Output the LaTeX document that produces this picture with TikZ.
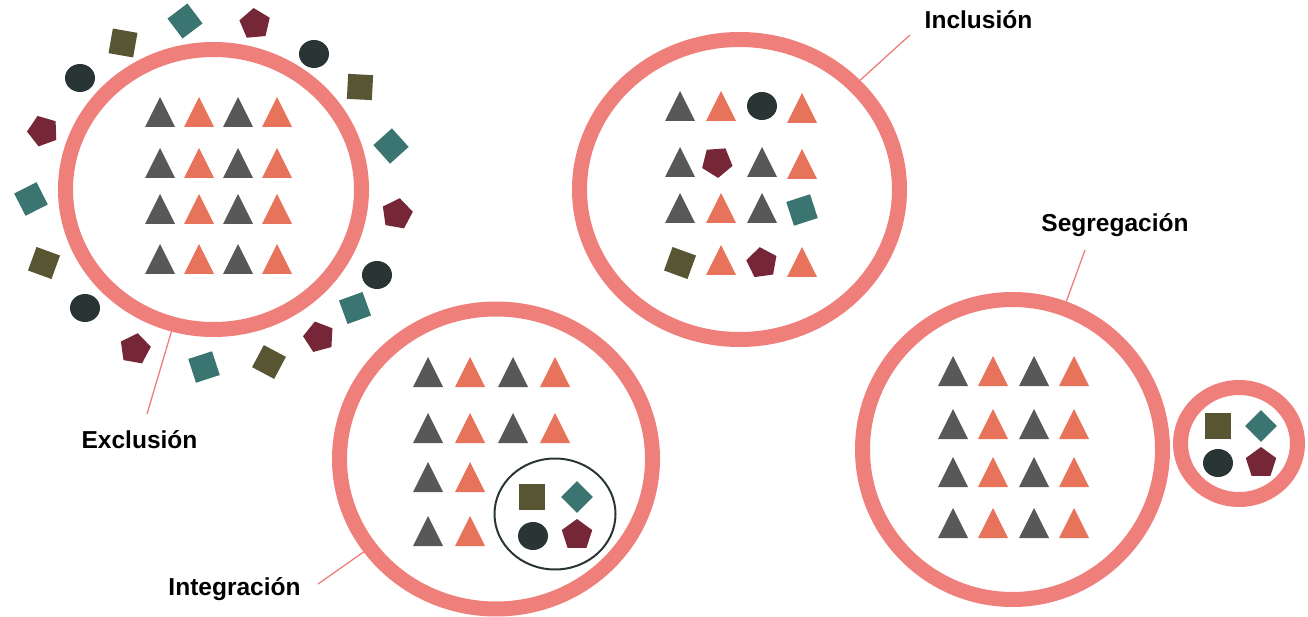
\documentclass[tikz,border=0pt]{standalone}
\usepackage{fontspec}
\setmainfont{Liberation Sans}
\usetikzlibrary{shapes.geometric}

\definecolor{anillo}{HTML}{EF7F7B}
\definecolor{gris}{HTML}{585858}
\definecolor{naranja}{HTML}{E8735B}
\definecolor{verdeazul}{HTML}{3B7571}
\definecolor{oliva}{HTML}{585532}
\definecolor{granate}{HTML}{762737}
\definecolor{oscuro}{HTML}{293535}

\tikzset{
  ring/.style={ellipse, draw=anillo, line width=15pt, inner sep=0pt},
  leader/.style={draw=anillo, line width=1.3pt},
  etiqueta/.style={font=\bfseries\fontsize{24.5}{28}\selectfont, anchor=base, inner sep=0pt},
  pics/tri/.style={code={\fill[#1] (-15,15) -- (15,15) -- (0,-15) -- cycle;}},
  pics/cuad/.style={code={\fill[#1] (-12.5,-12.5) rectangle (12.5,12.5);}},
  pics/pent/.style={code={\fill[granate] (-90:16) -- (-18:16) -- (54:16) -- (126:16) -- (198:16) -- cycle;}},
  pics/bola/.style={code={\fill[oscuro] (0,0) ellipse [x radius=15pt, y radius=14pt];}},
}

\begin{document}
\begin{tikzpicture}[x=1pt, y=-1pt]
\useasboundingbox (0,0) rectangle (1308,617);

% Anillos
\node[ring, minimum width=296pt, minimum height=280pt] (excring) at (213.5,189.5) {};
\node[ring, minimum width=320pt, minimum height=300pt] (incring) at (739.5,189.5) {};
\node[ring, minimum width=313pt, minimum height=300pt] (intring) at (496,459) {};
\node[ring, minimum width=300pt, minimum height=300pt] (segring) at (1012.5,449.5) {};
\node[ring, minimum width=117pt, minimum height=112pt] (segsmall) at (1239,443.5) {};
\node[ellipse, draw=oscuro, line width=2pt, inner sep=0pt,
      minimum width=121pt, minimum height=111pt] (intinner) at (555,514) {};

% Etiquetas
\node[etiqueta] (exclbl) at (139.5,448) {Exclusión};
\node[etiqueta] (inclbl) at (978.5,29) {Inclusión};
\node[etiqueta] (intlbl) at (234.5,595) {Integración};
\node[etiqueta] (seglbl) at (1115,232) {Segregación};

\coordinate (excpt) at (147,414);
\coordinate (incpt) at (910,35);
\coordinate (intpt) at (318,584);
\coordinate (segpt) at (1085,250);
\draw[leader] (excpt) -- (excring);
\draw[leader] (incpt) -- (incring);
\draw[leader] (intpt) -- (intring);
\draw[leader] (segpt) -- (segring);

% Exclusión: triángulos dentro
\foreach \y in {112,163,209,259} {
  \pic at (160,\y) {tri=gris}; \pic at (199,\y) {tri=naranja};
  \pic at (238,\y) {tri=gris}; \pic at (277,\y) {tri=naranja};
}
% Exclusión: figuras fuera
\foreach \x/\y/\a in {123/43/-10, 360/87/-3, 269/362/-28, 44/263/-20}
  \pic[rotate=\a] at (\x,\y) {cuad=oliva};
\foreach \x/\y/\a in {185/21/37, 391/146/42, 355/308/20, 204/367/18, 31/199/27}
  \pic[rotate=\a] at (\x,\y) {cuad=verdeazul};
\foreach \x/\y/\a in {255/24/5, 397/214/-10, 319/337/15, 135/349/-10, 43/131/20}
  \pic[rotate=\a] at (\x,\y) {pent};
\foreach \x/\y in {314/54, 377/275, 85/308, 80/78}
  \pic at (\x,\y) {bola};

% Inclusión
\pic at (680,106) {tri=gris}; \pic at (721,106) {tri=naranja};
\pic at (762,106) {bola}; \pic at (802,108) {tri=naranja};
\pic at (680,162) {tri=gris}; \pic[rotate=40] at (717,162) {pent};
\pic at (762,162) {tri=gris}; \pic at (802,164) {tri=naranja};
\pic at (680,208) {tri=gris}; \pic at (721,208) {tri=naranja};
\pic at (762,208) {tri=gris}; \pic[rotate=18] at (802,210) {cuad=verdeazul};
\pic[rotate=-20] at (680,263) {cuad=oliva}; \pic at (721,260) {tri=naranja};
\pic[rotate=8] at (762,263) {pent}; \pic at (802,262) {tri=naranja};

% Integración
\foreach \y in {372,428} {
  \pic at (428,\y) {tri=gris}; \pic at (470,\y) {tri=naranja};
  \pic at (513,\y) {tri=gris}; \pic at (555,\y) {tri=naranja};
}
\foreach \y in {477,531} {
  \pic at (428,\y) {tri=gris}; \pic at (470,\y) {tri=naranja};
}
\pic[scale=1.05] at (532,497) {cuad=oliva};
\pic[rotate=45, scale=0.9] at (577,497) {cuad=verdeazul};
\pic at (533,536) {bola};
\pic at (577,535) {pent};

% Segregación
\foreach \y in {371,424,472,523} {
  \pic at (953,\y) {tri=gris}; \pic at (993,\y) {tri=naranja};
  \pic at (1034,\y) {tri=gris}; \pic at (1074,\y) {tri=naranja};
}
\pic[scale=1.05] at (1218,426) {cuad=oliva};
\pic[rotate=45, scale=0.9] at (1261,426) {cuad=verdeazul};
\pic at (1218,463) {bola};
\pic at (1261,463) {pent};
\end{tikzpicture}
\end{document}
